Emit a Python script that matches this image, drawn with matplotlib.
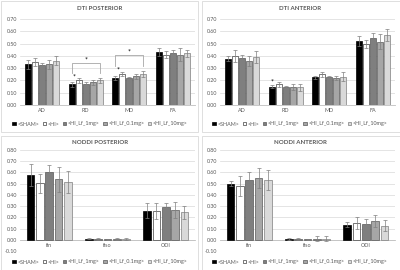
import matplotlib
matplotlib.use("Agg")
import matplotlib.pyplot as plt
from matplotlib.patches import Rectangle
import numpy as np

plt.rcParams['font.family'] = ['Lato', 'DejaVu Sans']

groups = ['<SHAM>', '<HI>', '<HI_Lf_1mg>', '<HI_Lf_0.1mg>', '<HI_Lf_10mg>']
colors = ['#000000', '#ffffff', '#7f7f7f', '#a6a6a6', '#d9d9d9']
edges = ['#000000', '#404040', '#595959', '#595959', '#7f7f7f']

dti_cats = ['AD', 'RD', 'MD', 'FA']
noddi_cats = ['fin', 'fiso', 'ODI']

# values[group][category]
dti_post = [[0.33, 0.17, 0.22, 0.43],
            [0.35, 0.20, 0.255, 0.41],
            [0.325, 0.175, 0.22, 0.425],
            [0.33, 0.185, 0.235, 0.41],
            [0.36, 0.20, 0.255, 0.42]]
dti_post_err = [[0.035, 0.02, 0.02, 0.035],
                [0.03, 0.02, 0.015, 0.03],
                [0.02, 0.01, 0.01, 0.02],
                [0.04, 0.02, 0.02, 0.05],
                [0.035, 0.02, 0.025, 0.03]]

dti_ant = [[0.375, 0.15, 0.225, 0.52],
           [0.40, 0.17, 0.25, 0.495],
           [0.38, 0.145, 0.225, 0.545],
           [0.355, 0.15, 0.22, 0.515],
           [0.39, 0.145, 0.23, 0.57]]
dti_ant_err = [[0.02, 0.015, 0.01, 0.04],
               [0.05, 0.02, 0.02, 0.03],
               [0.03, 0.01, 0.01, 0.04],
               [0.04, 0.025, 0.02, 0.06],
               [0.05, 0.03, 0.035, 0.05]]

noddi_post = [[0.575, 0.01, 0.26],
              [0.505, 0.01, 0.255],
              [0.605, 0.005, 0.29],
              [0.54, 0.01, 0.265],
              [0.515, 0.01, 0.245]]
noddi_post_err = [[0.10, 0.005, 0.065],
                  [0.085, 0.008, 0.07],
                  [0.06, 0.005, 0.04],
                  [0.11, 0.01, 0.07],
                  [0.095, 0.008, 0.06]]

noddi_ant = [[0.50, 0.01, 0.135],
             [0.48, 0.01, 0.15],
             [0.53, 0.005, 0.14],
             [0.55, 0.01, 0.165],
             [0.53, 0.01, 0.125]]
noddi_ant_err = [[0.02, 0.008, 0.025],
                 [0.09, 0.01, 0.055],
                 [0.07, 0.005, 0.045],
                 [0.09, 0.02, 0.055],
                 [0.09, 0.025, 0.05]]

W, H = 400, 270
fig = plt.figure(figsize=(4.0, 2.7), dpi=100)
fig.patch.set_facecolor('white')

txt = '#595959'
fs = 3.9

def px_axes(x0, y0, x1, y1):
    return fig.add_axes([x0 / W, 1 - y1 / H, (x1 - x0) / W, (y1 - y0) / H])

def panel(ax, title, cats, vals, errs, ylim, yticks, title_y, leg_y, cx):
    n = len(cats)
    x = np.arange(n)
    step = 0.16
    bw = 0.135
    handles = []
    for i in range(5):
        b = ax.bar(x + (i - 2) * step, vals[i], bw, color=colors[i],
                   edgecolor=edges[i], linewidth=0.5, zorder=3,
                   yerr=errs[i], error_kw=dict(ecolor='#7f7f7f', elinewidth=0.5,
                                              capsize=1.3, capthick=0.5, zorder=4))
        handles.append(b)
    ax.set_xlim(-0.5, n - 0.5)
    ax.set_ylim(*ylim)
    ax.set_yticks(yticks)
    ax.set_yticklabels(['%.2f' % t for t in yticks])
    ax.grid(axis='y', color='#d9d9d9', linewidth=0.5, zorder=0)
    ax.set_axisbelow(True)
    for s in ['top', 'right', 'left']:
        ax.spines[s].set_visible(False)
    ax.spines['bottom'].set_position(('data', 0))
    ax.spines['bottom'].set_color('#bfbfbf')
    ax.spines['bottom'].set_linewidth(0.6)
    ax.set_xticks(x)
    ax.set_xticklabels(cats)
    ax.tick_params(axis='both', length=0, labelsize=fs, colors=txt, pad=2)
    ax.tick_params(axis='x', pad=2.5)
    fig.text(cx / W, 1 - title_y / H, title, ha='center', va='center',
             fontsize=4.4, fontweight='bold', color=txt)
    fig.legend(handles, groups, loc='center', bbox_to_anchor=(cx / W, 1 - leg_y / H),
               ncol=5, frameon=False, fontsize=fs, handlelength=0.6, handleheight=0.6,
               handletextpad=0.3, columnspacing=0.65, labelcolor=txt)
    return x, step

def star(ax, x, y):
    ax.text(x, y, '*', ha='center', va='bottom', fontsize=5, color='#000000', zorder=6)

def bracket(ax, x0, x1, ytop, ylow):
    ax.plot([x0, x0, x1, x1], [ylow, ytop, ytop, ylow], color='#a6a6a6', lw=0.6, zorder=5)
    star(ax, (x0 + x1) / 2, ytop - 0.005)

# panel borders
for (x0, y0, x1, y1) in [(0.5, 0.5, 198, 132), (202, 0.5, 399.5, 132),
                         (0.5, 136, 198, 269.5), (202, 136, 399.5, 269.5)]:
    fig.patches.append(Rectangle((x0 / W, 1 - y1 / H), (x1 - x0) / W, (y1 - y0) / H,
                                 transform=fig.transFigure, fill=False,
                                 edgecolor='#d9d9d9', linewidth=0.6))

dti_ticks = np.round(np.arange(0, 0.71, 0.1), 2)
noddi_ticks = np.round(np.arange(-0.1, 0.81, 0.1), 2)

ax1 = px_axes(20, 19, 195, 105)
x, step = panel(ax1, 'DTI POSTERIOR', dti_cats, dti_post, dti_post_err,
                (0, 0.70), dti_ticks, 8, 124, 100)
bracket(ax1, x[1] - 2 * step, x[1] + 2 * step, 0.345, 0.26)
bracket(ax1, x[2] - 2 * step, x[2] + 2 * step, 0.41, 0.32)
star(ax1, x[1] - 1.6 * step, 0.2)
star(ax1, x[2] - 1.6 * step, 0.255)

ax2 = px_axes(220, 19, 395, 105)
x, step = panel(ax2, 'DTI ANTERIOR', dti_cats, dti_ant, dti_ant_err,
                (0, 0.70), dti_ticks, 8, 124, 300)
star(ax2, x[1] - 2 * step, 0.16)

ax3 = px_axes(20, 150, 195, 251)
panel(ax3, 'NODDI POSTERIOR', noddi_cats, noddi_post, noddi_post_err,
      (-0.10, 0.80), noddi_ticks, 143, 262, 100)

ax4 = px_axes(220, 150, 395, 251)
panel(ax4, 'NODDI ANTERIOR', noddi_cats, noddi_ant, noddi_ant_err,
      (-0.10, 0.80), noddi_ticks, 143, 262, 300)

fig.savefig('out.png', dpi=100, facecolor='white')
